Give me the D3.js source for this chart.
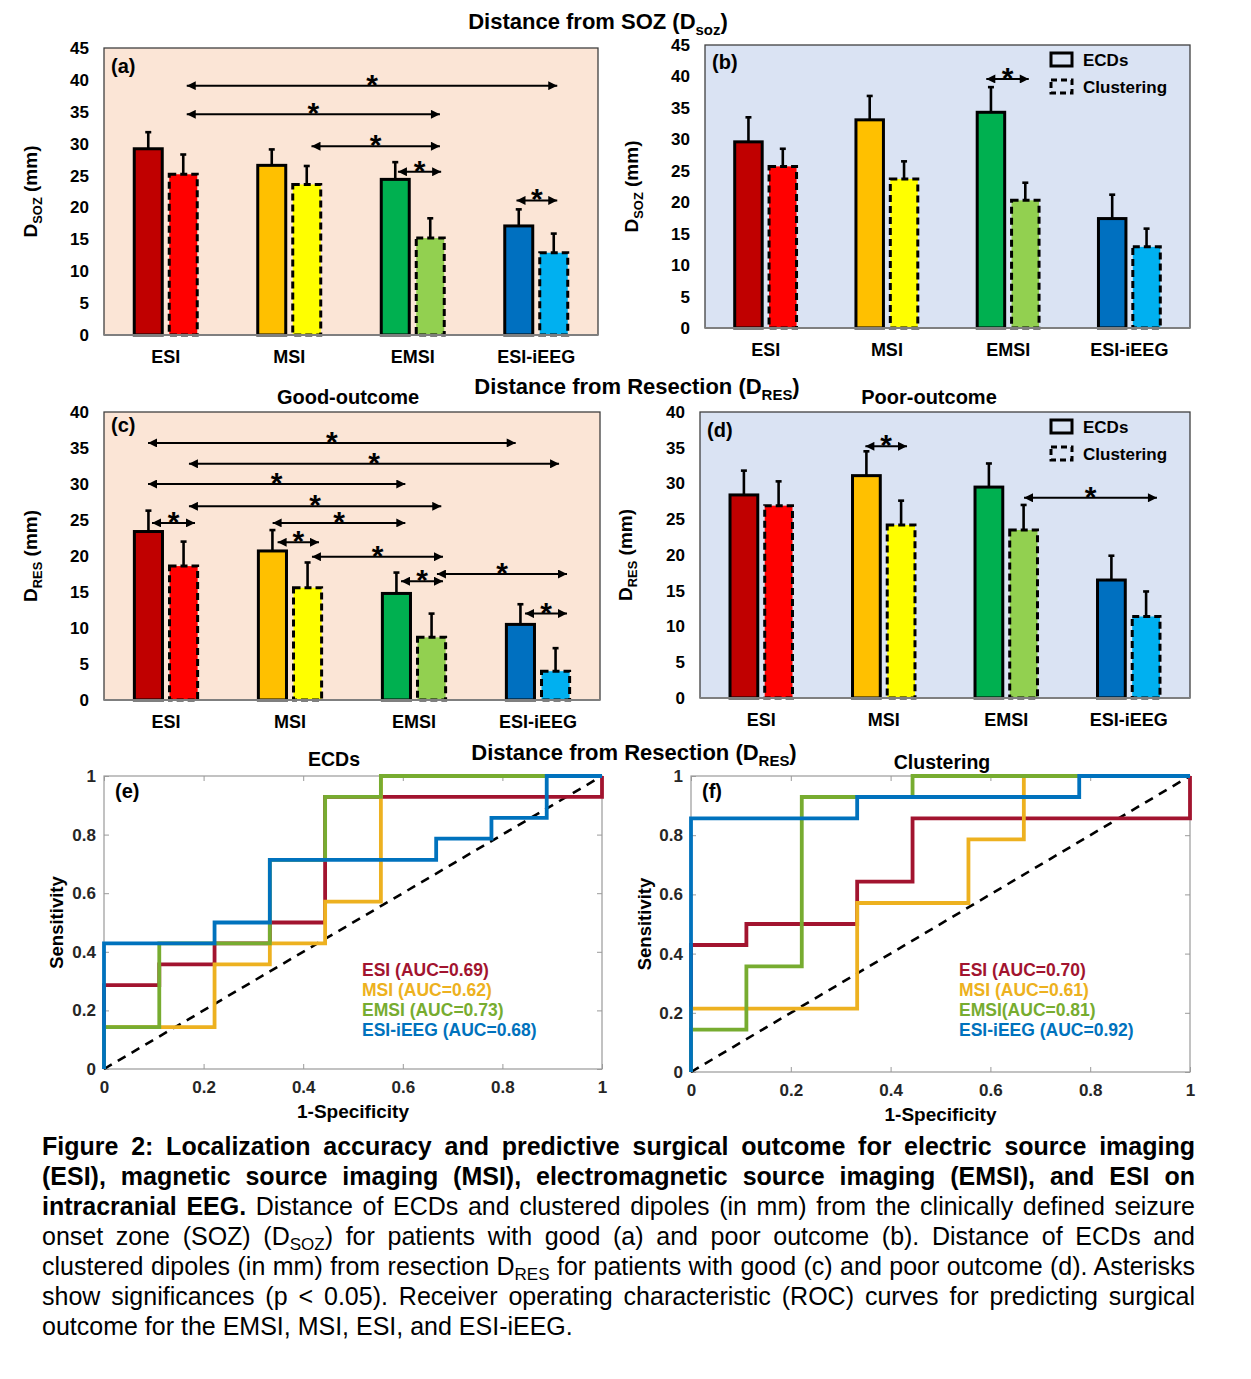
<!DOCTYPE html>
<html>
<head>
<meta charset="utf-8">
<script src="https://cdn.jsdelivr.net/npm/d3@7"></script>
<style>
body{margin:0;background:#fff;}
#wrap{position:relative;width:1251px;height:1379px;}
svg text{font-family:"Liberation Sans",Arial,sans-serif;font-weight:bold;}
#caption{position:absolute;left:42px;top:1131px;width:1153px;font-family:"Liberation Sans",Arial,sans-serif;font-size:25px;line-height:30px;color:#000;}
#caption .j{text-align:justify;text-align-last:justify;}
#caption sub{font-size:17px;vertical-align:-5px;line-height:0;}
</style>
</head>
<body>
<div id="wrap">
<svg id="fig" width="1251" height="1379"></svg>
<div id="caption">
<div class="j"><b>Figure 2: Localization accuracy and predictive surgical outcome for electric source imaging</b></div>
<div class="j"><b>(ESI), magnetic source imaging (MSI), electromagnetic source imaging (EMSI), and ESI on</b></div>
<div class="j"><b>intracranial EEG.</b> Distance of ECDs and clustered dipoles (in mm) from the clinically defined seizure</div>
<div class="j">onset zone (SOZ) (D<sub>SOZ</sub>) for patients with good (a) and poor outcome (b). Distance of ECDs and</div>
<div class="j">clustered dipoles (in mm) from resection D<sub>RES</sub> for patients with good (c) and poor outcome (d). Asterisks</div>
<div class="j">show significances (p &lt; 0.05). Receiver operating characteristic (ROC) curves for predicting surgical</div>
<div>outcome for the EMSI, MSI, ESI, and ESI-iEEG.</div>
</div>
</div>
<script>
// categories
var methods = ["ESI","MSI","EMSI","ESI-iEEG"];
var types = ["ECDs","Clustering"];
var ecdColors = ["#C00000","#FFC000","#00B050","#0070C0"];
var clustColors = ["#FF0000","#FFFF00","#92D050","#00B0F0"];
var rocColors = ["#A2142F","#EDB120","#77AC30","#0072BD"];

// (a) D_SOZ good outcome
var sozGoodEcd = [29.2, 26.6, 24.4, 17.1];
var sozGoodEcdErr = [2.6, 2.5, 2.7, 2.6];
var sozGoodClu = [25.2, 23.6, 15.2, 12.9];
var sozGoodCluErr = [3.1, 2.9, 3.1, 3.0];
// (b) D_SOZ poor outcome
var sozPoorEcd = [29.6, 33.1, 34.3, 17.4];
var sozPoorEcdErr = [3.9, 3.8, 4.0, 3.8];
var sozPoorClu = [25.7, 23.7, 20.3, 12.9];
var sozPoorCluErr = [2.8, 2.8, 2.8, 2.9];
// (c) D_RES good outcome
var resGoodEcd = [23.4, 20.7, 14.8, 10.5];
var resGoodEcdErr = [2.9, 2.9, 2.9, 2.8];
var resGoodClu = [18.6, 15.6, 8.7, 4.0];
var resGoodCluErr = [3.4, 3.5, 3.3, 3.2];
// (d) D_RES poor outcome
var resPoorEcd = [28.4, 31.1, 29.5, 16.5];
var resPoorEcdErr = [3.4, 3.4, 3.3, 3.4];
var resPoorClu = [26.9, 24.2, 23.5, 11.4];
var resPoorCluErr = [3.4, 3.4, 3.5, 3.5];

// significance arrows: [from, to, level] with from/to in group units (0..4)
var sigA = [[0.67,3.67,39.1],[0.67,2.72,34.6],[1.68,2.72,29.6],[2.38,2.73,25.6],[3.34,3.67,21.1]];
var sigB = [[2.32,2.67,39.6]];
var sigC = [[0.355,3.32,35.7],[0.685,3.67,32.8],[0.355,2.43,30.0],[0.685,2.72,26.9],[1.36,2.43,24.6],
            [0.387,0.734,24.6],[1.40,1.734,21.9],[1.677,2.734,19.9],[2.395,2.734,16.5],[2.685,3.734,17.5],[3.395,3.734,12.0]];
var sigD = [[1.35,1.69,35.2],[2.645,3.73,28.0]];

// ROC step corners (1-specificity, sensitivity), drawn with curveStepBefore
var rocTicks = [0, 0.2, 0.4, 0.6, 0.8, 1];
var ecdFpr = [
  [0, 0.111, 0.222, 0.333, 0.444, 1, 1],
  [0, 0.222, 0.333, 0.444, 0.556, 1],
  [0, 0.111, 0.333, 0.444, 0.556, 1],
  [0, 0.222, 0.333, 0.667, 0.778, 0.889, 1]];
var ecdTpr = [
  [0, 0.286, 0.357, 0.429, 0.5, 0.929, 1],
  [0, 0.143, 0.357, 0.429, 0.571, 1],
  [0, 0.143, 0.429, 0.714, 0.929, 1],
  [0, 0.429, 0.5, 0.714, 0.786, 0.857, 1]];
var ecdAuc = ["ESI (AUC=0.69)","MSI (AUC=0.62)","EMSI (AUC=0.73)","ESI-iEEG (AUC=0.68)"];
var cluFpr = [
  [0, 0.111, 0.333, 0.444, 1, 1],
  [0, 0.333, 0.556, 0.667, 1],
  [0, 0.111, 0.222, 0.444, 1],
  [0, 0.333, 0.778, 1]];
var cluTpr = [
  [0, 0.429, 0.5, 0.643, 0.857, 1],
  [0, 0.214, 0.571, 0.786, 1],
  [0, 0.143, 0.357, 0.929, 1],
  [0, 0.857, 0.929, 1]];
var cluAuc = ["ESI (AUC=0.70)","MSI (AUC=0.61)","EMSI(AUC=0.81)","ESI-iEEG (AUC=0.92)"];

var svg = d3.select("#fig");
svg.append("rect").attr("width",1251).attr("height",1379).attr("fill","#fff");
var defs = svg.append("defs");
defs.append("marker").attr("id","arr")
    .attr("viewBox","0 0 10 10").attr("refX",10).attr("refY",5)
    .attr("markerWidth",10).attr("markerHeight",9).attr("markerUnits","userSpaceOnUse")
    .attr("orient","auto-start-reverse")
  .append("path").attr("d","M0,0L10,5L0,10z").attr("fill","#000");

function subText(t, main, sub, tail, size){
  t.append("tspan").text(main);
  t.append("tspan").attr("font-size",size*0.68).attr("dy",size*0.25).text(sub);
  t.append("tspan").attr("dy",-size*0.25).text(tail);
}

function title(x, y, size, main, sub, tail){
  var t = svg.append("text").attr("x",x).attr("y",y).attr("text-anchor","middle").attr("font-size",size);
  if(sub){ subText(t, main, sub, tail, size); } else { t.text(main); }
}

function drawBars(p){
  var g = svg.append("g");
  var x0 = d3.scaleBand().domain(methods).range([p.L,p.R]);
  var bw = x0.bandwidth();
  var x1 = d3.scaleBand().domain(types).range([bw*0.245, bw*0.755]).paddingInner(0.2);
  var y = d3.scaleLinear().domain([0,p.ymax]).range([p.B,p.T]);
  var xu = d3.scaleLinear().domain([0,4]).range([p.L,p.R]);

  g.append("rect").attr("x",p.L).attr("y",p.T).attr("width",p.R-p.L).attr("height",p.B-p.T)
    .attr("fill",p.bg).attr("stroke","#404040").attr("stroke-width",1.3);

  var yAx = g.append("g").attr("transform","translate("+p.L+",0)")
    .call(d3.axisLeft(y).tickValues(d3.range(0,p.ymax+1,5)).tickSize(0).tickPadding(15));
  yAx.select(".domain").remove();
  yAx.selectAll("text").attr("font-size",17).attr("fill","#000");

  var xAx = g.append("g").attr("transform","translate(0,"+p.B+")")
    .call(d3.axisBottom(x0).tickSize(0).tickPadding(15));
  xAx.select(".domain").remove();
  xAx.selectAll("text").attr("font-size",18).attr("fill","#000");

  var rows = [];
  methods.forEach(function(m,i){
    rows.push({m:m, t:"ECDs", v:p.ecd[i], e:p.ecdErr[i], c:ecdColors[i]});
    rows.push({m:m, t:"Clustering", v:p.clu[i], e:p.cluErr[i], c:clustColors[i]});
  });
  // error bars (upper only)
  rows.forEach(function(d){
    var cx = x0(d.m)+x1(d.t)+x1.bandwidth()/2;
    g.append("line").attr("x1",cx).attr("x2",cx).attr("y1",y(d.v)).attr("y2",y(d.v+d.e))
      .attr("stroke","#000").attr("stroke-width",2.6);
    g.append("line").attr("x1",cx-3).attr("x2",cx+3).attr("y1",y(d.v+d.e)).attr("y2",y(d.v+d.e))
      .attr("stroke","#000").attr("stroke-width",2.6);
  });
  g.selectAll("rect.bar").data(rows).enter().append("rect").attr("class","bar")
    .attr("x",function(d){ return x0(d.m)+x1(d.t); })
    .attr("width",x1.bandwidth())
    .attr("y",function(d){ return y(d.v); })
    .attr("height",function(d){ return p.B-y(d.v); })
    .attr("fill",function(d){ return d.c; })
    .attr("stroke","#000").attr("stroke-width",3)
    .attr("stroke-dasharray",function(d){ return d.t=="ECDs" ? null : "7,4"; });

  g.append("line").attr("x1",p.L).attr("x2",p.R).attr("y1",p.B).attr("y2",p.B)
    .attr("stroke","#7f7f7f").attr("stroke-width",2);

  // significance arrows
  p.sig.forEach(function(s){
    g.append("line").attr("x1",xu(s[0])).attr("x2",xu(s[1])).attr("y1",y(s[2])).attr("y2",y(s[2]))
      .attr("stroke","#000").attr("stroke-width",2)
      .attr("marker-start","url(#arr)").attr("marker-end","url(#arr)");
    g.append("text").attr("x",(xu(s[0])+xu(s[1]))/2).attr("y",y(s[2])+9)
      .attr("text-anchor","middle").attr("font-size",30).text("*");
  });

  g.append("text").attr("x",p.L+7).attr("y",p.T+p.labDy).attr("font-size",20).text(p.label);

  var yl = g.append("text").attr("font-size",19).attr("text-anchor","middle")
    .attr("transform","translate("+p.ylx+","+((p.T+p.B)/2)+") rotate(-90)");
  subText(yl, "D", p.ysub, " (mm)", 19);

  if(p.legend){
    types.forEach(function(t,i){
      g.append("rect").attr("x",1051).attr("y",p.T+8+i*27).attr("width",21).attr("height",13)
        .attr("fill","none").attr("stroke","#000").attr("stroke-width",3)
        .attr("stroke-dasharray", i==0 ? null : "6,4");
      g.append("text").attr("x",1083).attr("y",p.T+21+i*27).attr("font-size",17).text(t);
    });
  }
}

function drawRoc(p){
  var g = svg.append("g");
  var x = d3.scaleLinear().domain([0,1]).range([p.L,p.R]);
  var y = d3.scaleLinear().domain([0,1]).range([p.B,p.T]);
  var fmt = function(d){ return String(+d.toFixed(1)); };
  g.append("rect").attr("x",p.L).attr("y",p.T).attr("width",p.R-p.L).attr("height",p.B-p.T)
    .attr("fill","#fff").attr("stroke","#9a9a9a").attr("stroke-width",1.2);

  var axes = [
    [d3.axisLeft(y).tickFormat(fmt).tickPadding(8), "translate("+p.L+",0)"],
    [d3.axisRight(y).tickFormat(""), "translate("+p.R+",0)"],
    [d3.axisBottom(x).tickFormat(fmt).tickPadding(12), "translate(0,"+p.B+")"],
    [d3.axisTop(x).tickFormat(""), "translate(0,"+p.T+")"]
  ];
  axes.forEach(function(a){
    var ax = g.append("g").attr("transform",a[1]).call(a[0].tickValues(rocTicks).tickSize(-5));
    ax.select(".domain").remove();
    ax.selectAll("line").attr("stroke","#9a9a9a");
    ax.selectAll("text").attr("font-size",17).attr("fill","#262626");
  });

  g.append("line").attr("x1",x(0)).attr("y1",y(0)).attr("x2",x(1)).attr("y2",y(1))
    .attr("stroke","#000").attr("stroke-width",2.6).attr("stroke-dasharray","9,7");

  var line = d3.line().curve(d3.curveStepBefore)
    .x(function(d){ return x(d[0]); }).y(function(d){ return y(d[1]); });
  p.fpr.forEach(function(f,i){
    g.append("path").datum(d3.zip(f, p.tpr[i])).attr("d",line)
      .attr("fill","none").attr("stroke",rocColors[i]).attr("stroke-width",3.8);
  });

  p.auc.forEach(function(t,i){
    g.append("text").attr("x",p.legX).attr("y",p.legY+i*20).attr("font-size",17.5)
      .attr("fill",rocColors[i]).text(t);
  });

  g.append("text").attr("x",p.L+11).attr("y",p.T+22).attr("font-size",20).text(p.label);
  g.append("text").attr("x",(p.L+p.R)/2).attr("y",p.B+49).attr("text-anchor","middle")
    .attr("font-size",19).text("1-Specificity");
  g.append("text").attr("text-anchor","middle").attr("font-size",18.5)
    .attr("transform","translate("+p.ylx+","+((p.T+p.B)/2)+") rotate(-90)").text("Sensitivity");
}

// titles
title(598, 29, 22, "Distance from SOZ (D", "soz", ")");
title(637, 394, 22, "Distance from Resection (D", "RES", ")");
title(348, 404, 20, "Good-outcome");
title(929, 404, 20, "Poor-outcome");
title(634, 760, 22, "Distance from Resection (D", "RES", ")");
title(334, 766, 19.5, "ECDs");
title(942, 769, 19.5, "Clustering");

drawBars({L:104, R:598, T:48, B:335, ymax:45, bg:"#FBE5D6", ecd:sozGoodEcd, ecdErr:sozGoodEcdErr,
  clu:sozGoodClu, cluErr:sozGoodCluErr, sig:sigA, label:"(a)", labDy:25, ylx:37, ysub:"SOZ"});
drawBars({L:705, R:1190, T:45, B:328, ymax:45, bg:"#DAE3F3", ecd:sozPoorEcd, ecdErr:sozPoorEcdErr,
  clu:sozPoorClu, cluErr:sozPoorCluErr, sig:sigB, label:"(b)", labDy:24, ylx:638, ysub:"SOZ", legend:true});
drawBars({L:104, R:600, T:412, B:700, ymax:40, bg:"#FBE5D6", ecd:resGoodEcd, ecdErr:resGoodEcdErr,
  clu:resGoodClu, cluErr:resGoodCluErr, sig:sigC, label:"(c)", labDy:20, ylx:37, ysub:"RES"});
drawBars({L:700, R:1190, T:412, B:698, ymax:40, bg:"#DAE3F3", ecd:resPoorEcd, ecdErr:resPoorEcdErr,
  clu:resPoorClu, cluErr:resPoorCluErr, sig:sigD, label:"(d)", labDy:25, ylx:632, ysub:"RES", legend:true});

drawRoc({L:104, R:602, T:776, B:1069, fpr:ecdFpr, tpr:ecdTpr, auc:ecdAuc, legX:362, legY:976, label:"(e)", ylx:63});
drawRoc({L:691, R:1190, T:776, B:1072, fpr:cluFpr, tpr:cluTpr, auc:cluAuc, legX:959, legY:976, label:"(f)", ylx:651});
</script>
</body>
</html>
